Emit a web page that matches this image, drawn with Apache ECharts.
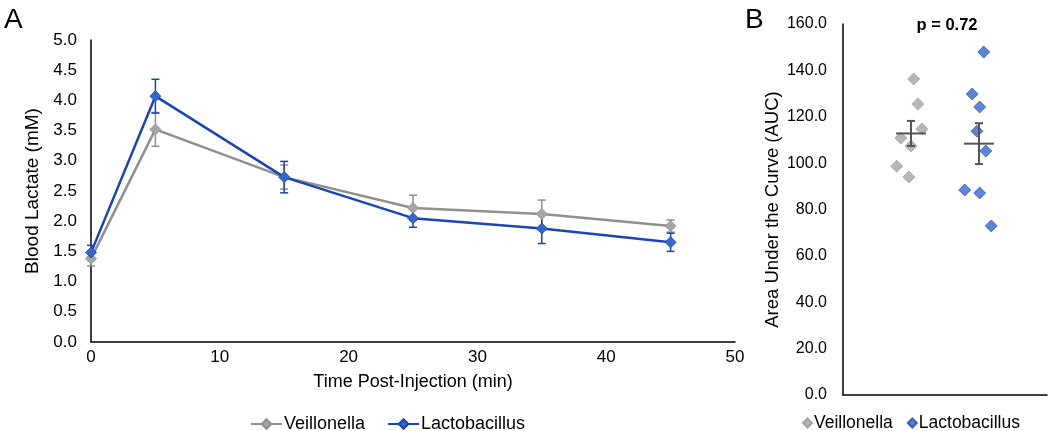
<!DOCTYPE html>
<html><head><meta charset="utf-8">
<script src="https://cdn.jsdelivr.net/npm/echarts@6/dist/echarts.min.js"></script>
<style>html,body{margin:0;padding:0;background:#fff}#c{width:1050px;height:431px}</style>
</head><body><div id="c"></div>
<script>
// Panel A data
const timePoints = [0, 5, 15, 25, 35, 45];
const veilLactate = [1.38, 3.52, 2.73, 2.22, 2.12, 1.92];
const veilErr = [0.12, 0.28, 0.20, 0.21, 0.23, 0.10];
const lactoLactate = [1.48, 4.07, 2.73, 2.05, 1.88, 1.65];
const lactoErr = [0.12, 0.28, 0.26, 0.15, 0.25, 0.15];
// Panel B data (jittered x position, AUC)
const veilAucX = [1.04, 1.10, 1.16, 0.85, 1.00, 0.79, 0.97];
const veilAuc = [136.3, 125.5, 114.7, 110.8, 107.4, 98.7, 94.0];
const lactoAucX = [2.07, 1.90, 2.01, 1.97, 2.10, 1.79, 2.01, 2.18];
const lactoAuc = [147.9, 129.8, 124.2, 113.8, 105.2, 88.4, 87.1, 72.9];
const groupX = [1, 2];
const aucMean = [112.8, 108.4];
const aucSem = [5.4, 8.8];
const groupNames = ['Veillonella', 'Lactobacillus'];

const GREY_LINE = '#8f8f8f', GREY_MK = '#a5a5a5';
const BLUE_LINE = '#1a45b8', BLUE_MK = '#3566cc';
const FONT = 'Liberation Sans, Arial, Helvetica, sans-serif';

function errData(xs, ys, es){ return xs.map((x,i)=>[x, ys[i]-es[i], ys[i]+es[i]]); }
function errRender(color){
  return function(params, api){
    const x = api.value(0), lo = api.value(1), hi = api.value(2);
    const p1 = api.coord([x, lo]), p2 = api.coord([x, hi]);
    const cw = 4;
    const st = {stroke: color, lineWidth: 1.5};
    return {type:'group', children:[
      {type:'line', shape:{x1:p1[0],y1:p1[1],x2:p2[0],y2:p2[1]}, style:st},
      {type:'line', shape:{x1:p1[0]-cw,y1:p1[1],x2:p1[0]+cw,y2:p1[1]}, style:st},
      {type:'line', shape:{x1:p2[0]-cw,y1:p2[1],x2:p2[0]+cw,y2:p2[1]}, style:st}
    ]};
  };
}
function meanRender(params, api){
  const x = api.value(0), m = api.value(1), e = api.value(2);
  const c = api.coord([x, m]), lo = api.coord([x, m-e]), hi = api.coord([x, m+e]);
  const st = {stroke:'#555555', lineWidth:2};
  const hw = 15, cw = 4;
  return {type:'group', children:[
    {type:'line', shape:{x1:c[0]-hw,y1:c[1],x2:c[0]+hw,y2:c[1]}, style:st},
    {type:'line', shape:{x1:lo[0],y1:lo[1],x2:hi[0],y2:hi[1]}, style:st},
    {type:'line', shape:{x1:lo[0]-cw,y1:lo[1],x2:lo[0]+cw,y2:lo[1]}, style:st},
    {type:'line', shape:{x1:hi[0]-cw,y1:hi[1],x2:hi[0]+cw,y2:hi[1]}, style:st}
  ]};
}

const axisLine = {show:true, lineStyle:{color:'#000', width:1.5}};
const tickA = {color:'#000', fontSize:17, fontFamily:FONT};
const tickB = {color:'#000', fontSize:16, fontFamily:FONT};
const titleStyle = {color:'#000', fontSize:18, fontFamily:FONT};

const chart = echarts.init(document.getElementById('c'), null, {renderer:'canvas'});
chart.setOption({
  animation:false,
  backgroundColor:'#fff',
  textStyle:{fontFamily:FONT},
  title:[
    {text:'A', left:-1, top:1, textStyle:{fontSize:28, fontWeight:'normal', color:'#000', fontFamily:FONT}},
    {text:'B', left:740, top:1, textStyle:{fontSize:28, fontWeight:'normal', color:'#000', fontFamily:FONT}},
    {text:'p = 0.72', left:942, top:12, textAlign:'center', textStyle:{fontSize:16.5, fontWeight:'bold', color:'#000', fontFamily:FONT}}
  ],
  grid:[
    {left:91, right:315, top:40, bottom:89},
    {left:843, right:3, top:24, bottom:36}
  ],
  xAxis:[
    {gridIndex:0, type:'value', min:0, max:50, interval:10, axisLine:axisLine, axisTick:{show:false}, splitLine:{show:false},
     axisLabel:Object.assign({margin:7}, tickA),
     name:'Time Post-Injection (min)', nameLocation:'middle', nameGap:31, nameTextStyle:titleStyle},
    {gridIndex:1, type:'value', min:0, max:3, axisLine:axisLine, axisTick:{show:false}, splitLine:{show:false}, axisLabel:{show:false}}
  ],
  yAxis:[
    {gridIndex:0, type:'value', min:0, max:5, interval:0.5, axisLine:axisLine, axisTick:{show:false}, splitLine:{show:false},
     axisLabel:Object.assign({margin:14, formatter:v=>v.toFixed(1)}, tickA),
     name:'Blood Lactate (mM)', nameLocation:'middle', nameGap:43, nameTextStyle:Object.assign({}, titleStyle, {fontSize:19})},
    {gridIndex:1, type:'value', min:0, max:160, interval:20, axisLine:axisLine, axisTick:{show:false}, splitLine:{show:false},
     axisLabel:Object.assign({margin:16, formatter:v=>v.toFixed(1)}, tickB),
     name:'Area Under the Curve (AUC)', nameLocation:'middle', nameGap:61, nameTextStyle:Object.assign({}, titleStyle, {fontSize:18.5})}
  ],
  legend:[
    {left:245, top:410, itemWidth:31, itemHeight:12, itemGap:22, textStyle:{fontSize:18, color:'#000', fontFamily:FONT, padding:[0,0,0,-3]},
     data:[groupNames[0], groupNames[1]]},
    {left:797, top:409, itemWidth:9, itemHeight:9, itemGap:14, textStyle:{fontSize:17.5, color:'#000', fontFamily:FONT, padding:[0,0,0,-3]},
     data:[{name:'Veillonella AUC', icon:'diamond'}, {name:'Lactobacillus AUC', icon:'diamond'}],
     formatter:n=>n.replace(' AUC','')}
  ],
  series:[
    {type:'custom', name:'veilErr', xAxisIndex:0, yAxisIndex:0, renderItem:errRender(GREY_LINE), data:errData(timePoints, veilLactate, veilErr), z:2},
    {type:'custom', name:'lactoErr', xAxisIndex:0, yAxisIndex:0, renderItem:errRender(BLUE_LINE), data:errData(timePoints, lactoLactate, lactoErr), z:3},
    {type:'line', name:groupNames[0], xAxisIndex:0, yAxisIndex:0, data:timePoints.map((t,i)=>[t, veilLactate[i]]),
     symbol:'diamond', symbolSize:11, lineStyle:{color:GREY_LINE, width:2.5}, itemStyle:{color:GREY_MK, borderColor:GREY_LINE, borderWidth:0.8}, z:4},
    {type:'line', name:groupNames[1], xAxisIndex:0, yAxisIndex:0, data:timePoints.map((t,i)=>[t, lactoLactate[i]]),
     symbol:'diamond', symbolSize:11, lineStyle:{color:BLUE_LINE, width:2.5}, itemStyle:{color:BLUE_MK, borderColor:BLUE_LINE, borderWidth:0.8}, z:5},
    {type:'scatter', name:'Veillonella AUC', xAxisIndex:1, yAxisIndex:1, data:veilAucX.map((x,i)=>[x, veilAuc[i]]),
     symbol:'diamond', symbolSize:12, itemStyle:{color:GREY_MK, borderColor:'#939393', borderWidth:0.8}, z:3},
    {type:'scatter', name:'Lactobacillus AUC', xAxisIndex:1, yAxisIndex:1, data:lactoAucX.map((x,i)=>[x, lactoAuc[i]]),
     symbol:'diamond', symbolSize:12, itemStyle:{color:BLUE_MK, borderColor:BLUE_LINE, borderWidth:0.8}, z:3},
    {type:'custom', name:'means', xAxisIndex:1, yAxisIndex:1, renderItem:meanRender, data:groupX.map((x,i)=>[x, aucMean[i], aucSem[i]]), z:4}
  ]
});
</script></body></html>
